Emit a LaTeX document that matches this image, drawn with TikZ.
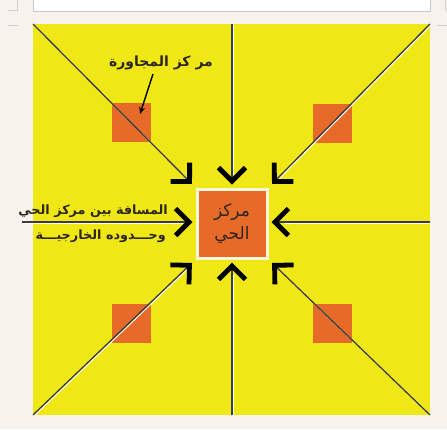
\documentclass[tikz,border=0pt]{standalone}
\usepackage{fontspec}
\usetikzlibrary{arrows.meta}
\newfontfamily\arabicfont[Script=Arabic]{DejaVu Sans}
\TeXXeTstate=1
\definecolor{bgc}{RGB}{247,243,236}
\definecolor{yel}{RGB}{240,232,22}
\definecolor{org}{RGB}{230,106,40}
\definecolor{lnc}{RGB}{60,60,60}
\definecolor{txc}{RGB}{45,38,30}
\definecolor{bord}{RGB}{255,248,215}
\tikzset{
  smallsq/.style={fill=org, draw=none, minimum width=39pt, minimum height=39pt, inner sep=0pt},
  centersq/.style={fill=org, draw=bord, line width=3pt, minimum width=70pt, minimum height=69pt, inner sep=0pt, align=center, text=txc, font=\arabicfont\fontsize{17}{28}\selectfont},
  conn/.style={draw=lnc, line width=1.3pt, -{Straight Barb[angle=90:19pt, line width=4.8pt, color=black]}},
  shadowln/.style={draw=white, line width=1pt},
  lbl/.style={text=txc, font=\arabicfont\bfseries\fontsize{14}{24}\selectfont, inner sep=0pt},
  lbls/.style={lbl, font=\arabicfont\bfseries\fontsize{12.8}{24}\selectfont},
  guide/.style={draw=black!18, line width=0.8pt}
}
\begin{document}
\begin{tikzpicture}[x=1pt,y=-1pt]
\useasboundingbox (0,0) rectangle (447,429);
\fill[bgc] (0,0) rectangle (447,429);
% page guides
\draw[guide] (17,0) -- (17,10) -- (8,10);
\draw[guide] (8,25) -- (18,25);
\draw[guide] (445,0) -- (445,11);
\draw[guide] (437,25) -- (447,25);
\filldraw[fill=white, draw=black!22, line width=0.8pt] (33,-2) rectangle (430,11);
% yellow field
\fill[yel] (33,24) rectangle (430,415);
% small squares
\node[smallsq] (sq1) at (131.5,122.5) {};
\node[smallsq] (sq2) at (332,123) {};
\node[smallsq] (sq3) at (131.5,323.5) {};
\node[smallsq] (sq4) at (332,323.5) {};
% center
\node[centersq] (ctr) at (232,223.5) {\beginR مركز\endR\\[-5pt]\beginR الحي\endR};
% outer points
\coordinate (tl) at (33,24);
\coordinate (tr) at (430,24);
\coordinate (bl) at (33,415);
\coordinate (br) at (430,415);
\coordinate (tp) at (232,24);
\coordinate (bt) at (232,415);
\coordinate (lf) at (22,222);
\coordinate (rt) at (430,222);
% shadows
\begin{scope}[transform canvas={shift={(1pt,-1pt)}}]
\draw[shadowln, shorten >=14pt] (tl) -- (ctr.north west);
\draw[shadowln, shorten >=14pt] (tr) -- (ctr.north east);
\draw[shadowln, shorten >=14pt] (bl) -- (ctr.south west);
\draw[shadowln, shorten >=14pt] (br) -- (ctr.south east);
\draw[shadowln, shorten >=14pt] (tp) -- (ctr.north);
\draw[shadowln, shorten >=14pt] (bt) -- (ctr.south);
\draw[shadowln, shorten >=14pt] (rt) -- (ctr.east |- rt);
\draw[shadowln, shorten >=14pt] (lf) -- (ctr.west |- lf);
\end{scope}
% connectors
\draw[conn, shorten >=5pt] (tl) -- (ctr.north west);
\draw[conn, shorten >=5pt] (tr) -- (ctr.north east);
\draw[conn, shorten >=5pt] (bl) -- (ctr.south west);
\draw[conn, shorten >=5pt] (br) -- (ctr.south east);
\draw[conn, shorten >=3pt] (tp) -- (ctr.north);
\draw[conn, shorten >=3pt] (bt) -- (ctr.south);
\draw[conn, shorten >=3pt] (rt) -- (ctr.east |- rt);
\draw[conn, shorten >=3pt] (lf) -- (ctr.west |- lf);
% labels
\node[lbl, anchor=south] (nb) at (161,70) {\beginR مر كز المجاورة\endR};
\draw[black, line width=1.4pt, -{Stealth[length=7pt, width=6pt]}] (153,74) -- (140,114);
\node[lbls, anchor=east] (l1) at (168,211) {\beginR المسافة بين مركز الحي\endR};
\node[lbls, anchor=east] (l2) at (166,236) {\beginR وحـــدوده الخارجيـــة\endR};
\end{tikzpicture}
\end{document}
